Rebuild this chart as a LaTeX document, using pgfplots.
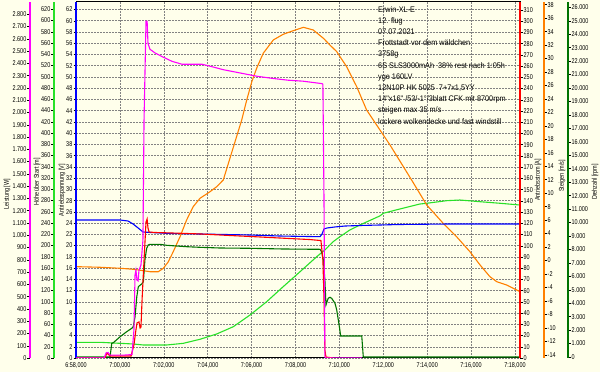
\documentclass[border=0pt]{standalone}
\usepackage{fontspec}
\setmainfont{Liberation Sans}[FakeStretch=0.78]
\newfontfamily\blockfont{Liberation Sans}[FakeStretch=0.9]
\usepackage{pgfplots}
\pgfplotsset{compat=1.18}

\definecolor{bg}{RGB}{255,255,235}
\definecolor{cmag}{RGB}{255,0,255}
\definecolor{cblue}{RGB}{0,0,255}
\definecolor{cred}{RGB}{255,0,0}
\definecolor{corange}{RGB}{255,128,0}
\definecolor{cgreen}{RGB}{40,225,40}
\definecolor{cdgreen}{RGB}{0,115,0}
\definecolor{cgrid}{RGB}{130,130,130}
\newcommand\ticksize{\fontsize{7}{8}\selectfont}

\pgfplotsset{
  base/.style={scale only axis, width=444pt, height=356pt, at={(76pt,14pt)}, anchor=south west,
    xmin=-2, xmax=18.23},
  data/.style={base, hide axis},
  ruler/.style={scale only axis, height=356pt, hide x axis, xmin=0, xmax=1,
    tick align=outside, major tick length=2.5pt, scaled y ticks=false,
    tick style={black, line width=0.4pt},
    yticklabel style={font=\ticksize, inner sep=1pt, /pgf/number format/.cd, 1000 sep={.}, assume math mode=true}},
  every axis plot/.append style={line width=1.1pt, mark=none},
}

\begin{document}
\begin{tikzpicture}
\fill[bg] (0pt,0pt) rectangle (600pt,372pt);

% grid / frame
\begin{axis}[base, ymin=0, ymax=63.33,
  xtick={-2,0,2,4,6,8,10,12,14,16,18},
  xticklabels={{6:58,000},{7:00,000},{7:02,000},{7:04,000},{7:06,000},{7:08,000},{7:10,000},{7:12,000},{7:14,000},{7:16,000},{7:18,000}},
  xticklabel style={font=\ticksize, inner sep=0pt, yshift=-4pt},
  ytick={0,2,...,62}, yticklabels={},
  grid=major, grid style={cgrid, dash pattern=on 1.5pt off 1.5pt, line width=0.5pt},
  tick style={draw=none},
  axis line style={black, line width=1pt}]
\end{axis}

% Hoehe (bright green)
\begin{axis}[data, ymin=0, ymax=633]
\addplot[cgreen] coordinates {
(-2.00,27.9) (-0.91,27.9) (0.61,24.9) (1.07,23.1) (2.13,23.1) (2.89,26.1) (3.65,33.3)
(4.41,42.7) (5.17,55.7) (5.93,76.5) (6.69,100.2) (7.44,126.8) (8.21,153.5) (8.97,180.2)
(9.34,192.1) (9.72,206.9) (10.03,215.8) (10.48,227.7) (10.94,236.6) (11.85,252.7)
(12.00,257.3) (12.76,265.0) (13.67,273.8) (13.98,275.1) (14.89,279.7) (15.49,280.9)
(16.41,277.9) (17.32,275.1) (18.23,272.0)};
\end{axis}

% Steigen (orange)
\begin{axis}[data, ymin=-14.49, ymax=38.40]
\addplot[corange] coordinates {
(-2.00,-0.92) (-0.91,-1.01) (0.01,-1.16) (0.61,-1.31) (1.07,-1.52) (1.37,-1.67) (1.75,-1.67)
(1.98,-1.16) (2.21,-0.18) (2.43,1.30) (2.74,3.53) (3.04,6.01) (3.34,7.99) (3.65,9.24)
(4.11,10.22) (4.41,10.96) (4.71,11.96) (5.55,20.87) (5.78,23.84) (6.01,26.56) (6.23,28.55)
(6.53,30.78) (6.99,32.76) (7.44,33.60) (7.90,34.14) (8.36,34.64) (8.81,34.24) (9.27,33.01)
(9.57,32.01) (9.88,31.02) (10.33,28.79) (10.79,25.82) (11.24,22.36) (12.31,17.14)
(13.29,11.96) (13.98,8.24) (14.73,5.52) (15.34,3.53) (15.95,1.30) (16.41,-0.67)
(16.86,-2.41) (17.17,-3.15) (17.62,-3.64) (18.23,-4.64)};
\end{axis}

% Drehzahl (dark green)
\begin{axis}[data, ymin=-74, ymax=26394]
\addplot[cdgreen] coordinates {
(-2.00,0) (-0.45,0) (-0.37,1019) (-0.30,1063) (0.01,1509) (0.31,1881) (0.54,2134) (0.61,2253)
(0.69,2996) (0.77,4483) (0.84,5227) (0.99,5428) (1.07,5599) (1.14,7212) (1.22,8082)
(1.29,8327) (1.37,8379) (1.83,8379) (2.13,8305) (3.04,8201) (3.65,8156) (4.56,8104)
(5.93,8082) (7.44,8030) (9.12,8007) (9.19,7829) (9.27,7212) (9.34,5725) (9.39,3866)
(9.49,4364) (9.57,4439) (9.65,4364) (9.80,3993) (9.88,3494) (10.00,2253) (10.06,1561)
(11.02,1561) (11.09,0) (18.23,0)};
\end{axis}

% Spannung (blue) with left axis
\begin{axis}[base, ruler, width=444pt, xmin=-2, xmax=18.23, ymin=0, ymax=63.33, axis y line*=left,
  ytick={0,2,...,62}, y axis line style={cblue, line width=1.5pt}]
\addplot[cblue] coordinates {
(-2.00,24.55) (0.00,24.55) (0.37,24.37) (0.60,23.84) (0.83,23.13) (1.05,22.42) (1.37,22.33)
(2.28,22.15) (3.65,22.06) (5.93,21.88) (7.29,21.70) (9.12,21.58) (9.21,22.06) (9.30,22.95)
(9.44,23.13) (9.80,23.31) (10.26,23.48) (10.94,23.57) (12.76,23.75) (15.04,23.84) (18.23,23.84)};
\end{axis}

% Strom (red) with right axis
\begin{axis}[base, ruler, width=444pt, xmin=-2, xmax=18.23, ymin=0, ymax=317.1, axis y line*=right,
  ytick={0,10,...,310}, y axis line style={cred, line width=1.5pt}]
\addplot[cred] coordinates {
(-2.00,0) (-0.68,0) (-0.59,4.5) (-0.45,1.8) (0.51,1.8) (0.64,11.6) (0.73,24.9) (0.78,31.2)
(0.87,32.1) (0.92,26.7) (0.96,27.6) (1.01,51.7) (1.10,87.3) (1.19,121.0) (1.24,123.8)
(1.28,115.8) (1.33,112.2) (1.60,111.8) (2.28,111.4) (3.65,110.5) (5.02,109.1) (6.38,107.8)
(7.75,106.4) (8.66,105.5) (9.16,104.6) (9.25,87.3) (9.30,51.7) (9.34,7.1) (9.39,0.9) (9.71,0)};
\end{axis}

% Leistung (magenta)
\begin{axis}[data, ymin=0, ymax=2900]
\addplot[cmag] coordinates {
(-2.00,0) (-0.72,0) (-0.63,41) (-0.54,45) (-0.45,24) (-0.22,24) (0.23,24) (0.55,28)
(0.64,228) (0.69,676) (0.73,716) (0.78,635) (0.83,627) (0.87,716) (0.96,757) (1.05,960)
(1.10,1937) (1.19,2743) (1.24,2743) (1.28,2564) (1.37,2515) (1.60,2485) (1.96,2452)
(2.37,2417) (2.83,2393) (3.74,2393) (4.24,2371) (4.70,2349) (5.47,2322) (6.25,2295)
(6.98,2277) (7.66,2263) (8.34,2255) (9.21,2235) (9.25,2230) (9.30,1286) (9.34,8) (9.39,0) (11.03,0)};
\end{axis}

% extra rulers
\begin{axis}[ruler, width=10pt, at={(30pt,14pt)}, anchor=south west, ymin=0, ymax=2900,
  axis y line*=left, ytick={0,100,...,2800}, y axis line style={cmag, line width=1.2pt}]
\end{axis}
\begin{axis}[ruler, width=10pt, at={(54pt,14pt)}, anchor=south west, ymin=0, ymax=633,
  axis y line*=left, ytick={0,20,...,620}, y axis line style={cgreen, line width=1.2pt}]
\end{axis}
\begin{axis}[ruler, width=10pt, at={(544pt,14pt)}, anchor=south east, ymin=-14.49, ymax=38.40,
  axis y line*=right, ytick={-14,-12,...,38}, y axis line style={corange, line width=1.2pt}]
\end{axis}
\begin{axis}[ruler, width=10pt, at={(568pt,14pt)}, anchor=south east, ymin=-74, ymax=26394,
  axis y line*=right, ytick={0,1000,...,26000}, y axis line style={cdgreen, line width=1.2pt}]
\end{axis}

% axis titles
\begin{scope}[every node/.style={font=\ticksize, rotate=90, inner sep=0pt}]
\node at (7pt,178pt) {Leistung [W]};
\node at (37pt,190pt) {Höhe über Start [m]};
\node at (62pt,182pt) {Antriebsspannung [V]};
\node at (538pt,192pt) {Antriebsstrom [A]};
\node at (562pt,196pt) {Steigen [m/s]};
\node at (595pt,190pt) {Drehzahl [rpm]};
\end{scope}

\node[anchor=north west, align=left, inner sep=0pt, font=\blockfont\fontsize{8.1}{11.2}\selectfont]
 at (378pt,366pt) {Erwin-XL-E\\12. flug\\07.07.2021\\Frottstadt vor dem wäldchen\\3758g\\
6S SLS3000mAh\ \ 38\% rest nach 1:05h\\yge 160LV\\12N10P HK 5025\ \ 7+7x1,5YY\\
14"x16" /53/-1°/3blatt CFK mit 8700rpm\\steigen max 35 m/s\\lockere wolkendecke und fast windstill};
\end{tikzpicture}
\end{document}
